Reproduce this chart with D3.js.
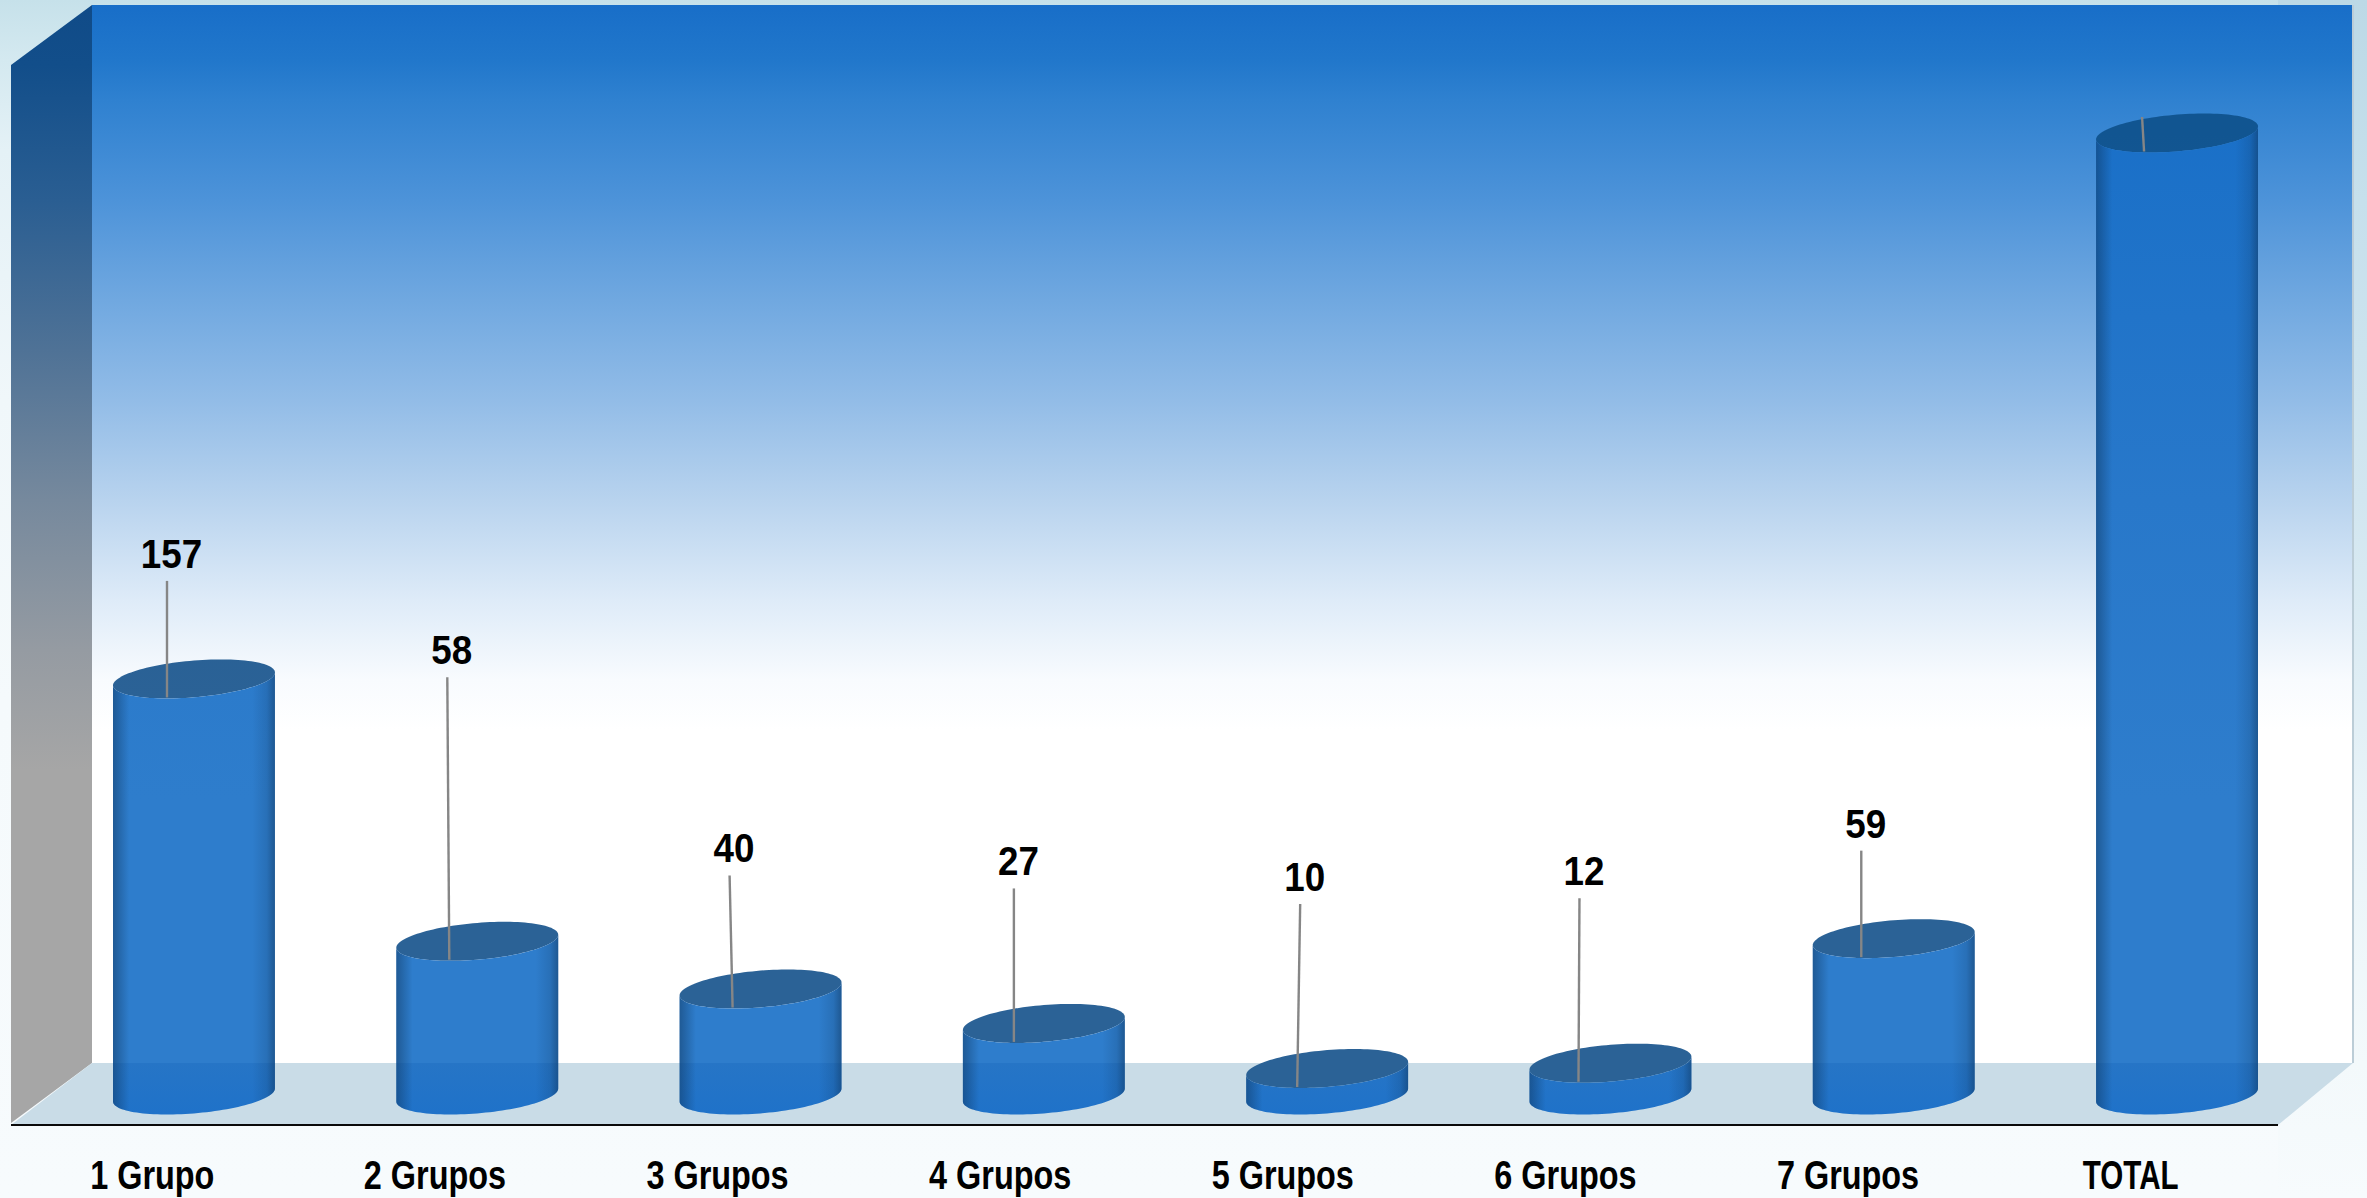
<!DOCTYPE html>
<html>
<head>
<meta charset="utf-8">
<script src="https://cdn.jsdelivr.net/npm/d3@7"></script>
<style>
html,body{margin:0;padding:0;background:#f6fafc;overflow:hidden}
svg{display:block}
text{font-family:"Liberation Sans",sans-serif;font-weight:700;fill:#000}
</style>
</head>
<body>
<svg id="chart" width="2367" height="1198"></svg>
<script>
const categories = ["1 Grupo","2 Grupos","3 Grupos","4 Grupos","5 Grupos","6 Grupos","7 Grupos","TOTAL"];
const values = [157,58,40,27,10,12,59,363];
const valueLabels = ["157","58","40","27","10","12","59",""];

// Leader lines: distance from the cylinder's foot along its top, rise above the top, sideways lean.
const leaderFoot = [54,53,53,51,51,49,48.5,48];
const leaderRise = [98,264,113.5,135,164.5,165,88,16];
const leaderLean = [0,-2,-3,0,3,1,0,-2];

const W = 2367, H = 1198;
const box = {frontL:11, backL:92, frontR:2278, backR:2353, top:5, wallTop:65, backFloor:1063, frontFloor:1125};
const capTilt = 6.5, capDepth = 18.4;

const svg = d3.select("#chart");
const defs = svg.append("defs");

const y = d3.scaleLinear().domain([0,363]).range([1095,133]);
const x = d3.scaleBand().domain(categories).range([113,2258]).paddingInner(0.4284);
const xLabel = d3.scaleBand().domain(categories).range([11,2272]);

function vGradient(id, y1, y2, stops){
  const g = defs.append("linearGradient").attr("id",id).attr("gradientUnits","userSpaceOnUse")
    .attr("x1",0).attr("x2",0).attr("y1",y1).attr("y2",y2);
  stops.forEach(s => g.append("stop").attr("offset",(s[0]-y1)/(y2-y1)).attr("stop-color",s[1]));
}

vGradient("pageLeft",0,H,[[0,"#c6e1ea"],[60,"#d4e9f0"],[150,"#e4f1f6"],[400,"#f0f7fa"],[700,"#f5fafc"],[1198,"#f7fbfd"]]);
vGradient("pageRight",0,H,[[0,"#bcd9e6"],[200,"#c6e0ec"],[500,"#d2e6f0"],[800,"#e8f3f8"],[1063,"#f3f9fb"],[1198,"#f7fbfd"]]);
vGradient("backWall",box.top,box.backFloor,[[5,"#186ec8"],[60,"#2177cb"],[100,"#2f81d0"],[200,"#4d93d9"],[300,"#70a8e0"],[400,"#92bce7"],[500,"#b8d3ee"],[600,"#deebf8"],[680,"#f8fbfe"],[730,"#ffffff"],[1063,"#ffffff"]]);
vGradient("sideWall",box.wallTop-60,box.frontFloor,[[5,"#104b88"],[65,"#124e8a"],[200,"#2a5e92"],[350,"#4f7296"],[500,"#76899d"],[650,"#959ba2"],[770,"#a6a6a6"],[1125,"#a6a6a6"]]);
vGradient("body",133,1114,[[133,"#1a70c8"],[500,"#2878ca"],[800,"#2e7dcc"],[1063,"#2e7dcc"],[1063,"#2675c6"],[1114,"#1f72c9"]]);
vGradient("cap",133,1090,[[133,"#115591"],[500,"#255e95"],[700,"#2b6296"],[1090,"#2b6296"]]);

const shade = defs.append("linearGradient").attr("id","edgeShade");
[[0,0.42],[0.03,0.30],[0.10,0],[0.86,0],[0.95,0.16],[1,0.45]].forEach(s =>
  shade.append("stop").attr("offset",s[0]).attr("stop-color","#0b2a4a").attr("stop-opacity",s[1]));

// Page, walls and floor of the box
svg.append("rect").attr("width",box.frontR).attr("height",H).attr("fill","url(#pageLeft)");
svg.append("rect").attr("x",box.frontR).attr("width",W-box.frontR).attr("height",H).attr("fill","url(#pageRight)");
const poly = d3.line();
svg.append("rect").attr("x",box.backL).attr("y",box.top)
  .attr("width",box.backR-box.backL).attr("height",box.backFloor-box.top).attr("fill","url(#backWall)");
svg.append("path").attr("d",poly([[box.backR,box.top],[box.backR,box.backFloor]]))
  .attr("stroke","#bccdd7").attr("stroke-width",2).attr("fill","none");
svg.append("path").attr("d",poly([[box.frontL,box.wallTop],[box.backL,box.top],[box.backL,box.backFloor],[box.frontL,box.frontFloor-2]])+"Z")
  .attr("fill","url(#sideWall)");
svg.append("path").attr("d",poly([[box.frontL,box.frontFloor],[box.backL,box.backFloor],[box.backR,box.backFloor],[box.frontR,box.frontFloor]])+"Z")
  .attr("fill","#c9dce7");
svg.append("path").attr("d",poly([[box.frontL,box.frontFloor],[box.frontR,box.frontFloor]]))
  .attr("stroke","#0a0a0a").attr("stroke-width",2.2).attr("fill","none");

// Point on a tilted elliptical rim; t runs from the left side (PI) round to the right side (0)
function rim(cx, cy, a, t){
  return [cx + a*Math.cos(t), cy - capTilt*Math.cos(t) + capDepth*Math.sin(t)];
}
const sweep = d3.range(0,61).map(i => Math.PI - i*Math.PI/60);
const full = d3.range(0,121).map(i => i*2*Math.PI/120);

function bodyPath(cx, a, yTop, yBase){
  const front = sweep.map(t => rim(cx,yBase,a,t));
  const back = sweep.map(t => rim(cx,yTop,a,t)).reverse();
  return d3.line()(front.concat(back)) + "Z";
}

const bars = svg.append("g").selectAll("g").data(categories).join("g");
const a = x.bandwidth()/2;
const base = y(0);

bars.append("path").attr("d",(d,i)=>d3.line()(full.map(t=>rim(x(d)+a,y(values[i]),a,t)))+"Z").attr("fill","url(#cap)");
bars.append("path").attr("d",(d,i)=>bodyPath(x(d)+a,a,y(values[i]),base)).attr("fill","url(#body)");
bars.append("path").attr("d",(d,i)=>bodyPath(x(d)+a,a,y(values[i]),base)).attr("fill","url(#edgeShade)");

// Leader lines from each cylinder top up to its value
bars.append("path")
  .attr("d",(d,i)=>{
    const bx = x(d)+leaderFoot[i], by = y(values[i])+18.5;
    return d3.line()([[bx+leaderLean[i],y(values[i])-leaderRise[i]],[bx,by]]);
  })
  .attr("stroke","#868686").attr("stroke-width",2.4).attr("fill","none");

bars.append("text")
  .attr("transform",(d,i)=>`translate(${x(d)+leaderFoot[i]+leaderLean[i]+4.5},${y(values[i])-leaderRise[i]-13}) scale(0.92,1)`)
  .attr("text-anchor","middle").attr("font-size",40)
  .text((d,i)=>valueLabels[i]);

// Category labels sit along the front edge of the floor
svg.append("g").selectAll("text").data(categories).join("text")
  .attr("transform",d=>`translate(${xLabel(d)+xLabel.bandwidth()/2},1189) scale(${d==="TOTAL"?0.74:0.81},1)`)
  .attr("text-anchor","middle").attr("font-size",40)
  .text(d=>d);
</script>
</body>
</html>
